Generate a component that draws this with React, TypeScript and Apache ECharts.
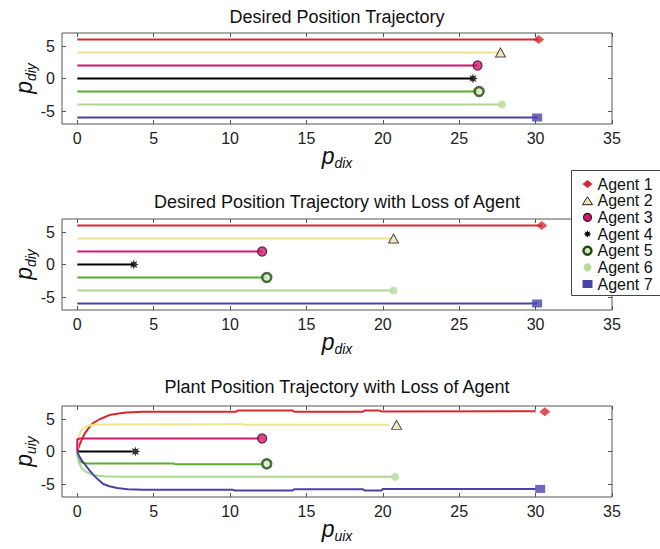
import React, { useEffect, useRef } from 'react';
import * as echarts from 'echarts';

const FONT = '"Liberation Sans", Arial, Helvetica, sans-serif';

const agents = ['Agent 1', 'Agent 2', 'Agent 3', 'Agent 4', 'Agent 5', 'Agent 6', 'Agent 7'];
const lineColors = ['#d7282f', '#f3e38c', '#d4166f', '#000000', '#5cad2f', '#acd98f', '#4a42a6'];
const levels = [6, 4, 2, 0, -2, -4, -6];
const xTicks = [0, 5, 10, 15, 20, 25, 30, 35];
const yTicks = [-5, 0, 5];

const titles = [
  'Desired Position Trajectory',
  'Desired Position Trajectory with Loss of Agent',
  'Plant Position Trajectory with Loss of Agent',
];
const xNames = ['dix', 'dix', 'uix'];
const yNames = ['diy', 'diy', 'uiy'];

// end x of each desired trajectory
const desiredEndX = [30.2, 27.7, 26.2, 25.9, 26.3, 27.8, 30.1];
const lossEndX = [30.4, 20.7, 12.1, 3.7, 12.4, 20.7, 30.1];

// plant trajectories (with loss of agent)
const plant1 = [[0, 0], [0.1, 0.7], [0.25, 1.6], [0.5, 2.8], [0.8, 3.8], [1.05, 4.4], [1.5, 5.0], [2.1, 5.6], [2.7, 5.85], [3.2, 6.0], [4.3, 6.1], [10.4, 6.1], [10.5, 6.3], [14.1, 6.3], [14.2, 6.1], [18.7, 6.1], [18.8, 6.3], [19.8, 6.3], [19.9, 6.15], [30.0, 6.2]];
const plant2 = [[0, 0], [0.03, 1.2], [0.1, 2.3], [0.2, 3.0], [0.35, 3.5], [0.55, 3.8], [0.8, 4.0], [1.2, 4.15], [10.8, 4.2], [10.9, 4.1], [20.4, 4.1]];
const plant3 = [[0, 0], [0, 1.9], [0.2, 2.0], [11.9, 2.0]];
const plant4 = [[0, 0], [3.6, 0]];
const plant5 = [[0, 0], [0.03, -0.8], [0.12, -1.4], [0.3, -1.7], [0.6, -1.85], [6.3, -1.85], [6.4, -1.95], [12.1, -1.95]];
const plant6 = [[0, 0], [0.03, -1.0], [0.12, -1.8], [0.3, -2.6], [0.55, -3.1], [0.8, -3.4], [1.05, -3.6], [1.7, -3.8], [3.0, -3.9], [20.6, -3.9]];
const plant7 = [[0, 0], [0.1, -0.6], [0.3, -1.4], [0.5, -2.0], [0.8, -2.9], [1.05, -3.6], [1.4, -4.4], [1.7, -5.0], [2.1, -5.35], [2.6, -5.6], [3.3, -5.8], [4.3, -5.9], [10.2, -5.9], [10.3, -6.0], [14.1, -6.0], [14.2, -5.8], [18.7, -5.8], [18.8, -6.0], [19.9, -6.0], [20.0, -5.75], [30.0, -5.75]];
const plantMarkers = [[30.6, 6.1], [20.9, 4.1], [12.1, 2.0], [3.8, 0], [12.4, -1.9], [20.8, -3.9], [30.3, -5.75]];

const starPath =
  'path://' +
  Array.from({ length: 16 }, (_, i) => {
    const r = i % 2 ? 0.5 : 1;
    const a = (i * Math.PI) / 8;
    return `${i ? 'L' : 'M'}${(r * Math.cos(a)).toFixed(3)},${(r * Math.sin(a)).toFixed(3)}`;
  }).join(' ') +
  ' Z';

const markerStyles: any[] = [
  { symbol: 'diamond', size: [11, 9], itemStyle: { color: '#d7282f' } },
  { symbol: 'triangle', size: [10, 9], itemStyle: { color: '#efe3b4', borderColor: '#222', borderWidth: 1 } },
  { symbol: 'circle', size: 9, itemStyle: { color: '#d4166f', borderColor: '#3a0d22', borderWidth: 1.2 } },
  { symbol: starPath, size: 10, itemStyle: { color: '#000' } },
  { symbol: 'circle', size: 9, itemStyle: { color: '#d6ecc0', borderColor: '#1f4a15', borderWidth: 2.5 } },
  { symbol: 'circle', size: 8, itemStyle: { color: '#b5dc97' } },
  { symbol: 'rect', size: [10, 8], itemStyle: { color: '#4a42a6' } },
];

const gridTops = [33, 219, 406];
const GRID_LEFT = 61;
const GRID_W = 551;
const GRID_H = 91;

export default function App() {
  const ref = useRef<HTMLDivElement>(null);
  useEffect(() => {
    if (!ref.current) return;
    const chart = echarts.init(ref.current, null, { renderer: 'svg' });

    const panels = [
      {
        lines: agents.map((_, i) => [[0, levels[i]], [desiredEndX[i], levels[i]]]),
        markers: agents.map((_, i) => [desiredEndX[i], levels[i]]),
      },
      {
        lines: agents.map((_, i) => [[0, levels[i]], [lossEndX[i], levels[i]]]),
        markers: agents.map((_, i) => [lossEndX[i], levels[i]]),
      },
      {
        lines: [plant1, plant2, plant3, plant4, plant5, plant6, plant7],
        markers: plantMarkers,
      },
    ];

    const grids = gridTops.map((t) => ({
      left: GRID_LEFT,
      top: t,
      width: GRID_W,
      height: GRID_H,
      show: true,
      borderColor: '#555',
      borderWidth: 1,
      backgroundColor: 'transparent',
    }));

    const nameRich = {
      p: { fontSize: 23, fontStyle: 'italic', fontFamily: FONT, color: '#111', lineHeight: 26, verticalAlign: 'top' },
      s: { fontSize: 14, fontStyle: 'italic', fontFamily: FONT, color: '#111', lineHeight: 14, verticalAlign: 'bottom', padding: [16, 0, 0, 0] },
    };

    const tickStyle = { show: true, inside: true, length: 4, lineStyle: { color: '#555', width: 1 } };
    const noLine = { show: false, onZero: false };

    const xAxes: any[] = [];
    const yAxes: any[] = [];
    for (let p = 0; p < 3; p++) {
      xAxes.push({
        type: 'value',
        gridIndex: p,
        min: -1,
        max: 35,
        position: 'bottom',
        axisLine: noLine,
        splitLine: { show: false },
        axisTick: { ...tickStyle, customValues: xTicks },
        axisLabel: { customValues: xTicks, fontFamily: FONT, fontSize: 16, color: '#222', margin: 6 },
        name: `{p|p}{s|${xNames[p]}}`,
        nameLocation: 'middle',
        nameGap: 20,
        nameMoveOverlap: false,
        nameTextStyle: { rich: nameRich },
      });
      yAxes.push({
        type: 'value',
        gridIndex: p,
        min: -7,
        max: 7,
        position: 'left',
        axisLine: noLine,
        splitLine: { show: false },
        axisTick: { ...tickStyle, customValues: yTicks },
        axisLabel: { customValues: yTicks, fontFamily: FONT, fontSize: 16, color: '#222', margin: 7 },
        name: `{p|p}{s|${yNames[p]}}`,
        nameLocation: 'middle',
        nameRotate: 90,
        nameGap: 24,
        nameMoveOverlap: false,
        nameTextStyle: { rich: nameRich },
      });
    }
    for (let p = 0; p < 3; p++) {
      xAxes.push({
        type: 'value',
        gridIndex: p,
        min: -1,
        max: 35,
        position: 'top',
        axisLine: noLine,
        splitLine: { show: false },
        axisTick: { ...tickStyle, customValues: xTicks },
        axisLabel: { show: false },
      });
      yAxes.push({
        type: 'value',
        gridIndex: p,
        min: -7,
        max: 7,
        position: 'right',
        axisLine: noLine,
        splitLine: { show: false },
        axisTick: { ...tickStyle, customValues: yTicks },
        axisLabel: { show: false },
      });
    }

    const series: any[] = [];
    panels.forEach((panel, p) => {
      agents.forEach((name, i) => {
        series.push({
          type: 'line',
          name,
          xAxisIndex: p,
          yAxisIndex: p,
          data: panel.lines[i],
          symbol: 'none',
          showSymbol: false,
          lineStyle: { color: lineColors[i], width: 2 },
          itemStyle: { color: lineColors[i] },
          z: 2,
        });
      });
    });
    panels.forEach((panel, p) => {
      agents.forEach((name, i) => {
        const m = markerStyles[i];
        series.push({
          type: 'scatter',
          name,
          xAxisIndex: p,
          yAxisIndex: p,
          data: [panel.markers[i]],
          symbol: m.symbol,
          symbolSize: m.size,
          itemStyle: m.itemStyle,
          z: 3,
        });
      });
    });

    const titleY = [17, 202, 387];

    chart.setOption({
      animation: false,
      grid: grids,
      xAxis: xAxes,
      yAxis: yAxes,
      series,
      legend: {
        orient: 'vertical',
        left: 582,
        top: 176,
        padding: 0,
        itemWidth: 10,
        itemHeight: 8,
        itemGap: 0.67,
        z: 20,
        textStyle: { fontFamily: FONT, fontSize: 16, color: '#111', lineHeight: 16 },
        data: agents.map((name, i) => ({
          name,
          icon: markerStyles[i].symbol,
          itemStyle: markerStyles[i].itemStyle,
        })),
      },
      graphic: [
        {
          type: 'rect',
          z: 10,
          shape: { x: 571.5, y: 170.5, width: 120, height: 125 },
          style: { fill: '#fff', stroke: '#444', lineWidth: 1 },
        },
        ...titles.map((t, i) => ({
          type: 'text',
          x: 337,
          y: titleY[i],
          z: 10,
          style: {
            text: t,
            font: `18px ${FONT}`,
            fill: '#111',
            textAlign: 'center',
            textVerticalAlign: 'middle',
          },
        })),
      ],
    });
    return () => chart.dispose();
  }, []);

  return <div ref={ref} style={{ width: 660, height: 549, position: 'absolute', left: 0, top: 0 }} />;
}
